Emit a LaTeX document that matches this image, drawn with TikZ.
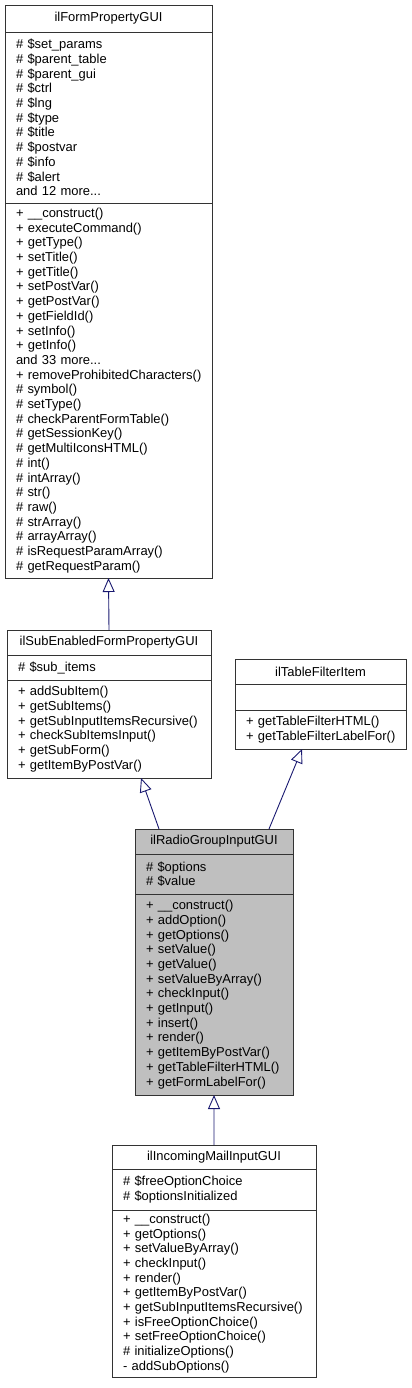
\documentclass[tikz,border=0pt]{standalone}
\usepackage{fontspec}
\setmainfont{Liberation Sans}
\usepackage{tikz}
\usetikzlibrary{positioning, arrows.meta, calc}
\definecolor{edgeblue}{HTML}{191970}
\definecolor{boxline}{HTML}{333333}
\definecolor{curfill}{HTML}{BFBFBF}
\hyphenpenalty=10000
\exhyphenpenalty=10000

\tikzset{
    uml/.style={draw=boxline, line width=0.9bp, inner xsep=11bp, inner ysep=0bp,
        outer sep=0bp, font=\fontsize{13}{14.75}\selectfont},
    umltitle/.style={uml, align=center},
    umlpart/.style={uml, align=left},
    inherit/.style={edgeblue, line width=0.9bp,
        -{Triangle[open, length=14bp, width=12bp, fill=white]}}
}

\begin{document}
\begin{tikzpicture}[x=1bp, y=-1bp]
    \useasboundingbox (0,0) rectangle (411,1388);

    % ilFormPropertyGUI
    \node[umltitle, text width=185bp, minimum height=27bp, anchor=north west] (formprop) at (5,5) {ilFormPropertyGUI};
    \node[umlpart, text width=185bp, minimum height=171bp, below=0bp of formprop] (formpropattr) {%
        \#~\$set\_params\\ \#~\$parent\_table\\ \#~\$parent\_gui\\ \#~\$ctrl\\ \#~\$lng\\
        \#~\$type\\ \#~\$title\\ \#~\$postvar\\ \#~\$info\\ \#~\$alert\\ and~12~more...};
    \node[umlpart, text width=185bp, minimum height=375bp, below=0bp of formpropattr] (formpropops) {%
        +~\_\_construct()\\ +~executeCommand()\\ +~getType()\\ +~setTitle()\\ +~getTitle()\\
        +~setPostVar()\\ +~getPostVar()\\ +~getFieldId()\\ +~setInfo()\\ +~getInfo()\\
        and~33~more...\\ +~removeProhibitedCharacters()\\ \#~symbol()\\ \#~setType()\\
        \#~checkParentFormTable()\\ \#~getSessionKey()\\ \#~getMultiIconsHTML()\\ \#~int()\\
        \#~intArray()\\ \#~str()\\ \#~raw()\\ \#~strArray()\\ \#~arrayArray()\\
        \#~isRequestParamArray()\\ \#~getRequestParam()};

    % ilSubEnabledFormPropertyGUI
    \node[umltitle, text width=182bp, minimum height=25bp, anchor=north west] (suben) at (7,630) {ilSubEnabledFormPropertyGUI};
    \node[umlpart, text width=182bp, minimum height=25bp, below=0bp of suben] (subenattr) {\#~\$sub\_items};
    \node[umlpart, text width=182bp, minimum height=98bp, below=0bp of subenattr] (subenops) {%
        +~addSubItem()\\ +~getSubItems()\\ +~getSubInputItemsRecursive()\\
        +~checkSubItemsInput()\\ +~getSubForm()\\ +~getItemByPostVar()};

    % ilTableFilterItem
    \node[umltitle, text width=149bp, minimum height=25bp, anchor=north west] (filter) at (235,659) {ilTableFilterItem};
    \node[umlpart, text width=149bp, minimum height=26bp, below=0bp of filter] (filterattr) {};
    \node[umlpart, text width=149bp, minimum height=39bp, below=0bp of filterattr] (filterops) {%
        +~getTableFilterHTML()\\ +~getTableFilterLabelFor()};

    % ilRadioGroupInputGUI
    \node[umltitle, fill=curfill, text width=136bp, minimum height=25bp, anchor=north west] (radio) at (135,829) {ilRadioGroupInputGUI};
    \node[umlpart, fill=curfill, text width=136bp, minimum height=40bp, below=0bp of radio] (radioattr) {%
        \#~\$options\\ \#~\$value};
    \node[umlpart, fill=curfill, text width=136bp, minimum height=201bp, below=0bp of radioattr] (radioops) {%
        +~\_\_construct()\\ +~addOption()\\ +~getOptions()\\ +~setValue()\\ +~getValue()\\
        +~setValueByArray()\\ +~checkInput()\\ +~getInput()\\ +~insert()\\ +~render()\\
        +~getItemByPostVar()\\ +~getTableFilterHTML()\\ +~getFormLabelFor()};

    % ilIncomingMailInputGUI
    \node[umltitle, text width=182bp, minimum height=24bp, anchor=north west] (mail) at (112,1145) {ilIncomingMailInputGUI};
    \node[umlpart, text width=182bp, minimum height=41bp, below=0bp of mail] (mailattr) {%
        \#~\$freeOptionChoice\\ \#~\$optionsInitialized};
    \node[umlpart, text width=182bp, minimum height=167bp, below=0bp of mailattr] (mailops) {%
        +~\_\_construct()\\ +~getOptions()\\ +~setValueByArray()\\ +~checkInput()\\ +~render()\\
        +~getItemByPostVar()\\ +~getSubInputItemsRecursive()\\ +~isFreeOptionChoice()\\
        +~setFreeOptionChoice()\\ \#~initializeOptions()\\ -~addSubOptions()};

    % inheritance
    \draw[inherit] (suben.north) -- (formpropops.south);
    \draw[inherit] ($(radio.north west)!0.152!(radio.north east)$) -- ($(subenops.south west)!0.657!(subenops.south east)$);
    \draw[inherit] ($(radio.north west)!0.848!(radio.north east)$) -- ($(filterops.south west)!0.392!(filterops.south east)$);
    \draw[inherit] (mail.north) -- (radioops.south);
\end{tikzpicture}
\end{document}
